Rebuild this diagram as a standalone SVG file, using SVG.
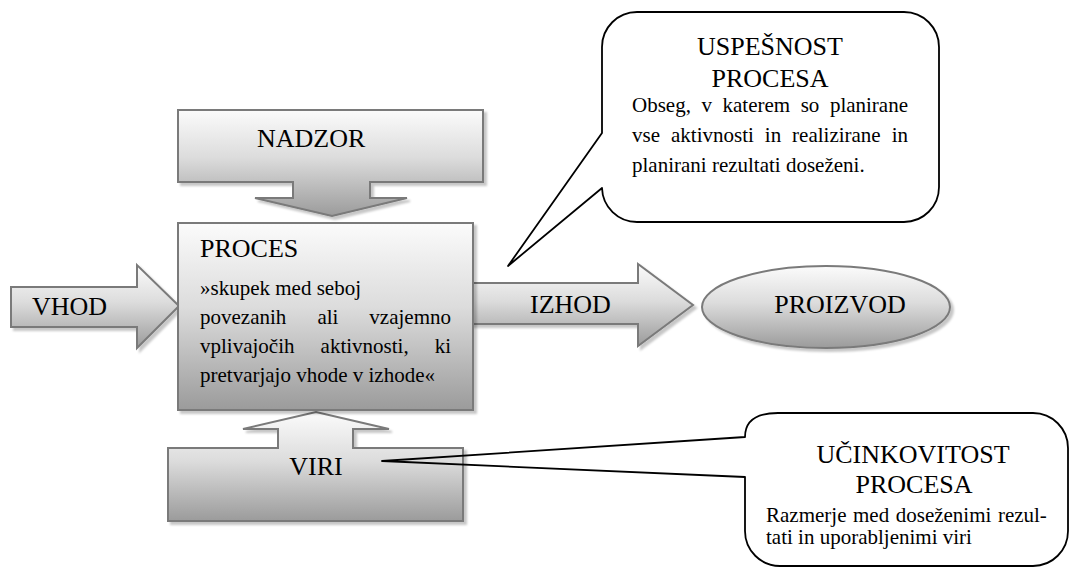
<svg xmlns="http://www.w3.org/2000/svg" width="1070" height="571" viewBox="0 0 1070 571">
<style>
.shape{stroke:#7a7a7a;stroke-width:2;fill:url(#g);filter:url(#sh)}
.callout{fill:none;stroke:#000;stroke-width:1.8;stroke-linejoin:round}
text{font-family:"Liberation Serif","Times New Roman",serif;fill:#000}
.t{font-size:26px}
.b{font-size:21px}
</style>
<defs>
<linearGradient id="g" x1="0" y1="0" x2="0" y2="1">
<stop offset="0" stop-color="#fbfbfb"/>
<stop offset="0.45" stop-color="#dcdcdc"/>
<stop offset="1" stop-color="#9b9b9b"/>
</linearGradient>
<filter id="sh" x="-5%" y="-5%" width="115%" height="120%">
<feDropShadow dx="3" dy="3" stdDeviation="0.8" flood-color="#000" flood-opacity="0.22"/>
</filter>
</defs>
<g id="nadzor">
<path class="shape" d="M178,110 H483 V182 H370 V198 H407 L332,216 L255,198 H293 V182 H178 Z"/>
<text class="t" x="257" y="147">NADZOR</text>
</g>
<g id="vhod">
<path class="shape" d="M11,287 H137 V265 L179,306 L137,348 V327 H11 Z"/>
<text class="t" x="32" y="315">VHOD</text>
</g>
<g id="izhod">
<path class="shape" d="M470,283 H638 V264 L693,305 L638,346 V324 H470 Z"/>
<text class="t" x="530" y="313">IZHOD</text>
</g>
<g id="viri">
<path class="shape" d="M168,448 H278 V429 H243 L316,412 L389,429 H353 V448 H463 V521 H168 Z"/>
<text class="t" x="316" y="475" text-anchor="middle">VIRI</text>
</g>
<g id="proces">
<rect class="shape" x="178" y="223" width="295" height="187"/>
<text class="t" x="200" y="257">PROCES</text>
<text class="b" x="200" y="295">»skupek med seboj</text>
<text class="b" y="324"><tspan x="200">povezanih</tspan><tspan x="317.4">ali</tspan><tspan x="451" text-anchor="end">vzajemno</tspan></text>
<text class="b" y="353"><tspan x="200">vplivajočih</tspan><tspan x="320.6">aktivnosti,</tspan><tspan x="451" text-anchor="end">ki</tspan></text>
<text class="b" x="200" y="382">pretvarjajo vhode v izhode«</text>
</g>
<g id="proizvod">
<ellipse class="shape" cx="826" cy="307" rx="124" ry="41"/>
<text class="t" x="840" y="313" text-anchor="middle">PROIZVOD</text>
</g>
<g id="connectors">
<path class="callout" d="M637,12 H904 A35,35 0 0 1 939,47 V187 A35,35 0 0 1 904,222 H637 A35,35 0 0 1 602,188 L508,266 L602,133 V47 A35,35 0 0 1 637,12 Z"/>
<path class="callout" d="M745,437 Q745,413 778,413 H1033 A35,35 0 0 1 1068,448 V531 A35,35 0 0 1 1033,566 H780 A35,35 0 0 1 745,531 V477 L382,461 Z"/>
</g>
<g id="uspesnost">
<text class="t" x="770" y="55" text-anchor="middle">USPEŠNOST</text>
<text class="t" x="770" y="87" text-anchor="middle">PROCESA</text>
<text class="b" y="112"><tspan x="632">Obseg,</tspan><tspan x="701.5">v</tspan><tspan x="722.5">katerem</tspan><tspan x="800.7">so</tspan><tspan x="908" text-anchor="end">planirane</tspan></text>
<text class="b" y="142"><tspan x="632">vse</tspan><tspan x="671">aktivnosti</tspan><tspan x="764.8">in</tspan><tspan x="792.1">realizirane</tspan><tspan x="908" text-anchor="end">in</tspan></text>
<text class="b" x="632" y="172">planirani rezultati doseženi.</text>
</g>
<g id="ucinkovitost">
<text class="t" x="913" y="463" text-anchor="middle" font-size="25">UČINKOVITOST</text>
<text class="t" x="914" y="493" text-anchor="middle">PROCESA</text>
<text class="b" x="766" y="522" word-spacing="1.3">Razmerje med doseženimi rezul-</text>
<text class="b" x="766" y="544">tati in uporabljenimi viri</text>
</g>
</svg>
